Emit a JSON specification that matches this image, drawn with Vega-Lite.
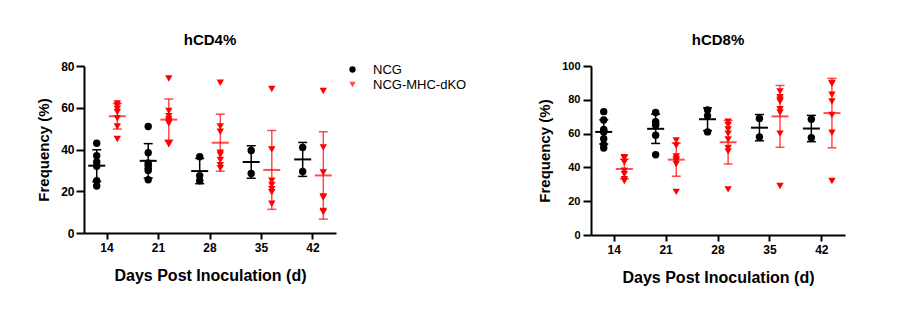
{
  "$schema": "https://vega.github.io/schema/vega-lite/v6.json",
  "padding": {"left": 36, "top": 33, "right": 5, "bottom": 5},
  "background": "white",
  "data": {"values": [
    {"panel":"CD4","day":14,"group":"NCG","value":43},{"panel":"CD4","day":14,"group":"NCG","value":37},{"panel":"CD4","day":14,"group":"NCG","value":34},{"panel":"CD4","day":14,"group":"NCG","value":32},{"panel":"CD4","day":14,"group":"NCG","value":25},{"panel":"CD4","day":14,"group":"NCG","value":22.5},
    {"panel":"CD4","day":14,"group":"NCG-MHC-dKO","value":62},{"panel":"CD4","day":14,"group":"NCG-MHC-dKO","value":61},{"panel":"CD4","day":14,"group":"NCG-MHC-dKO","value":59.5},{"panel":"CD4","day":14,"group":"NCG-MHC-dKO","value":58},{"panel":"CD4","day":14,"group":"NCG-MHC-dKO","value":55},{"panel":"CD4","day":14,"group":"NCG-MHC-dKO","value":51},{"panel":"CD4","day":14,"group":"NCG-MHC-dKO","value":45},
    {"panel":"CD4","day":21,"group":"NCG","value":51},{"panel":"CD4","day":21,"group":"NCG","value":38.5},{"panel":"CD4","day":21,"group":"NCG","value":33.5},{"panel":"CD4","day":21,"group":"NCG","value":32.5},{"panel":"CD4","day":21,"group":"NCG","value":31},{"panel":"CD4","day":21,"group":"NCG","value":30},{"panel":"CD4","day":21,"group":"NCG","value":25.5},
    {"panel":"CD4","day":21,"group":"NCG-MHC-dKO","value":74},{"panel":"CD4","day":21,"group":"NCG-MHC-dKO","value":58.5},{"panel":"CD4","day":21,"group":"NCG-MHC-dKO","value":56},{"panel":"CD4","day":21,"group":"NCG-MHC-dKO","value":54.5},{"panel":"CD4","day":21,"group":"NCG-MHC-dKO","value":53.5},{"panel":"CD4","day":21,"group":"NCG-MHC-dKO","value":52.5},{"panel":"CD4","day":21,"group":"NCG-MHC-dKO","value":43},{"panel":"CD4","day":21,"group":"NCG-MHC-dKO","value":42.5},
    {"panel":"CD4","day":28,"group":"NCG","value":36.5},{"panel":"CD4","day":28,"group":"NCG","value":27.5},{"panel":"CD4","day":28,"group":"NCG","value":25},
    {"panel":"CD4","day":28,"group":"NCG-MHC-dKO","value":72},{"panel":"CD4","day":28,"group":"NCG-MHC-dKO","value":51},{"panel":"CD4","day":28,"group":"NCG-MHC-dKO","value":48.5},{"panel":"CD4","day":28,"group":"NCG-MHC-dKO","value":38.5},{"panel":"CD4","day":28,"group":"NCG-MHC-dKO","value":37.5},{"panel":"CD4","day":28,"group":"NCG-MHC-dKO","value":35},{"panel":"CD4","day":28,"group":"NCG-MHC-dKO","value":32.5},{"panel":"CD4","day":28,"group":"NCG-MHC-dKO","value":31},
    {"panel":"CD4","day":35,"group":"NCG","value":39.5},{"panel":"CD4","day":35,"group":"NCG","value":28.5},
    {"panel":"CD4","day":35,"group":"NCG-MHC-dKO","value":69},{"panel":"CD4","day":35,"group":"NCG-MHC-dKO","value":40},{"panel":"CD4","day":35,"group":"NCG-MHC-dKO","value":25},{"panel":"CD4","day":35,"group":"NCG-MHC-dKO","value":23},{"panel":"CD4","day":35,"group":"NCG-MHC-dKO","value":21},{"panel":"CD4","day":35,"group":"NCG-MHC-dKO","value":19.5},{"panel":"CD4","day":35,"group":"NCG-MHC-dKO","value":14},
    {"panel":"CD4","day":42,"group":"NCG","value":41},{"panel":"CD4","day":42,"group":"NCG","value":29.5},
    {"panel":"CD4","day":42,"group":"NCG-MHC-dKO","value":68},{"panel":"CD4","day":42,"group":"NCG-MHC-dKO","value":41},{"panel":"CD4","day":42,"group":"NCG-MHC-dKO","value":29},{"panel":"CD4","day":42,"group":"NCG-MHC-dKO","value":17.5},{"panel":"CD4","day":42,"group":"NCG-MHC-dKO","value":17},{"panel":"CD4","day":42,"group":"NCG-MHC-dKO","value":10.5},{"panel":"CD4","day":42,"group":"NCG-MHC-dKO","value":10},
    {"panel":"CD8","day":14,"group":"NCG","value":73},{"panel":"CD8","day":14,"group":"NCG","value":68},{"panel":"CD8","day":14,"group":"NCG","value":62.5},{"panel":"CD8","day":14,"group":"NCG","value":61.5},{"panel":"CD8","day":14,"group":"NCG","value":61},{"panel":"CD8","day":14,"group":"NCG","value":57},{"panel":"CD8","day":14,"group":"NCG","value":53.5},{"panel":"CD8","day":14,"group":"NCG","value":51.5},
    {"panel":"CD8","day":14,"group":"NCG-MHC-dKO","value":46},{"panel":"CD8","day":14,"group":"NCG-MHC-dKO","value":45.5},{"panel":"CD8","day":14,"group":"NCG-MHC-dKO","value":43},{"panel":"CD8","day":14,"group":"NCG-MHC-dKO","value":38},{"panel":"CD8","day":14,"group":"NCG-MHC-dKO","value":36},{"panel":"CD8","day":14,"group":"NCG-MHC-dKO","value":33},{"panel":"CD8","day":14,"group":"NCG-MHC-dKO","value":32},
    {"panel":"CD8","day":21,"group":"NCG","value":72.5},{"panel":"CD8","day":21,"group":"NCG","value":67},{"panel":"CD8","day":21,"group":"NCG","value":66},{"panel":"CD8","day":21,"group":"NCG","value":65},{"panel":"CD8","day":21,"group":"NCG","value":59},{"panel":"CD8","day":21,"group":"NCG","value":47.5},
    {"panel":"CD8","day":21,"group":"NCG-MHC-dKO","value":56},{"panel":"CD8","day":21,"group":"NCG-MHC-dKO","value":53},{"panel":"CD8","day":21,"group":"NCG-MHC-dKO","value":46.5},{"panel":"CD8","day":21,"group":"NCG-MHC-dKO","value":45},{"panel":"CD8","day":21,"group":"NCG-MHC-dKO","value":44},{"panel":"CD8","day":21,"group":"NCG-MHC-dKO","value":42},{"panel":"CD8","day":21,"group":"NCG-MHC-dKO","value":25.5},
    {"panel":"CD8","day":28,"group":"NCG","value":74},{"panel":"CD8","day":28,"group":"NCG","value":70.5},{"panel":"CD8","day":28,"group":"NCG","value":61},
    {"panel":"CD8","day":28,"group":"NCG-MHC-dKO","value":67},{"panel":"CD8","day":28,"group":"NCG-MHC-dKO","value":65},{"panel":"CD8","day":28,"group":"NCG-MHC-dKO","value":62.5},{"panel":"CD8","day":28,"group":"NCG-MHC-dKO","value":60},{"panel":"CD8","day":28,"group":"NCG-MHC-dKO","value":56.5},{"panel":"CD8","day":28,"group":"NCG-MHC-dKO","value":51.5},{"panel":"CD8","day":28,"group":"NCG-MHC-dKO","value":49.5},{"panel":"CD8","day":28,"group":"NCG-MHC-dKO","value":27},
    {"panel":"CD8","day":35,"group":"NCG","value":69},{"panel":"CD8","day":35,"group":"NCG","value":58},
    {"panel":"CD8","day":35,"group":"NCG-MHC-dKO","value":85},{"panel":"CD8","day":35,"group":"NCG-MHC-dKO","value":81.5},{"panel":"CD8","day":35,"group":"NCG-MHC-dKO","value":80},{"panel":"CD8","day":35,"group":"NCG-MHC-dKO","value":79},{"panel":"CD8","day":35,"group":"NCG-MHC-dKO","value":74.5},{"panel":"CD8","day":35,"group":"NCG-MHC-dKO","value":72.5},{"panel":"CD8","day":35,"group":"NCG-MHC-dKO","value":60},{"panel":"CD8","day":35,"group":"NCG-MHC-dKO","value":29},
    {"panel":"CD8","day":42,"group":"NCG","value":68.5},{"panel":"CD8","day":42,"group":"NCG","value":57.5},
    {"panel":"CD8","day":42,"group":"NCG-MHC-dKO","value":90},{"panel":"CD8","day":42,"group":"NCG-MHC-dKO","value":89.5},{"panel":"CD8","day":42,"group":"NCG-MHC-dKO","value":83},{"panel":"CD8","day":42,"group":"NCG-MHC-dKO","value":79},{"panel":"CD8","day":42,"group":"NCG-MHC-dKO","value":71},{"panel":"CD8","day":42,"group":"NCG-MHC-dKO","value":60.5},{"panel":"CD8","day":42,"group":"NCG-MHC-dKO","value":32}
  ]},
  "config": {
    "font": "Liberation Sans",
    "view": {"stroke": null},
    "axis": {"grid": false, "domainColor": "black", "domainWidth": 2, "tickColor": "black", "tickWidth": 2, "labelColor": "black", "labelFont": "Liberation Sans", "labelFontWeight": "bold", "titleColor": "black", "titleFont": "Liberation Sans", "titleFontWeight": "bold", "labelOverlap": false},
    "axisX": {"tickSize": 6, "labelFontSize": 12, "labelPadding": 3, "labelAngle": 0, "titleFontSize": 16, "titlePadding": 14},
    "axisY": {"tickSize": 8, "labelPadding": 2, "titleFontSize": 15, "titlePadding": 9},
    "title": {"fontSize": 15, "fontWeight": "bold", "color": "black", "font": "Liberation Sans", "offset": 12},
    "legend": {"labelFont": "Liberation Sans", "labelFontSize": 13, "labelColor": "black", "symbolSize": 40, "labelOffset": 14, "rowPadding": 1, "symbolStrokeWidth": 0}
  },
  "spacing": 70,
  "resolve": {"scale": {"color": "independent", "shape": "independent", "opacity": "independent"}, "legend": {"color": "independent", "shape": "independent"}},
  "hconcat": [
    {
      "width": 252, "height": 167,
      "title": "hCD4%",
      "transform": [{"filter": "datum.panel === 'CD4'"}],
      "encoding": {
        "x": {"field": "day", "type": "ordinal", "scale": {"paddingInner": 0.2, "paddingOuter": 0.047}, "axis": {"title": "Days Post Inoculation (d)"}},
        "xOffset": {"field": "group", "type": "nominal", "scale": {"domain": ["NCG", "NCG-MHC-dKO"]}}
      },
      "layer": [
        {
          "mark": {"type": "point", "filled": true, "opacity": 1, "size": 55},
          "encoding": {
            "y": {"field": "value", "type": "quantitative", "scale": {"domain": [0, 80], "nice": false}, "axis": {"title": "Frequency (%)", "values": [0, 20, 40, 60, 80], "labelFontSize": 12}},
            "color": {"field": "group", "type": "nominal", "scale": {"domain": ["NCG", "NCG-MHC-dKO"], "range": ["#000000", "#ff0000"]}, "legend": {"title": null, "orient": "none", "legendX": 262, "legendY": -3}},
            "shape": {"field": "group", "type": "nominal", "scale": {"domain": ["NCG", "NCG-MHC-dKO"], "range": ["circle", "triangle-down"]}, "legend": {"title": null, "orient": "none", "legendX": 262, "legendY": -3}}
          }
        },
        {
          "transform": [
            {"aggregate": [{"op": "mean", "field": "value", "as": "mean"}, {"op": "stdev", "field": "value", "as": "sd"}], "groupby": ["day", "group"]},
            {"calculate": "datum.mean - datum.sd", "as": "lo"},
            {"calculate": "datum.mean + datum.sd", "as": "hi"}
          ],
          "encoding": {
            "color": {"field": "group", "type": "nominal", "scale": {"domain": ["NCG", "NCG-MHC-dKO"], "range": ["#000000", "#ff0000"]}, "legend": null},
            "opacity": {"field": "group", "type": "nominal", "scale": {"domain": ["NCG", "NCG-MHC-dKO"], "range": [1, 0.7]}, "legend": null}
          },
          "layer": [
            {"mark": {"type": "rule", "strokeWidth": 1.5}, "encoding": {"y": {"field": "lo", "type": "quantitative", "scale": {"domain": [0, 80], "nice": false}, "axis": {"title": "Frequency (%)", "values": [0, 20, 40, 60, 80], "labelFontSize": 12}}, "y2": {"field": "hi"}}},
            {"mark": {"type": "tick", "size": 9, "thickness": 1.5}, "encoding": {"y": {"field": "lo", "type": "quantitative", "scale": {"domain": [0, 80], "nice": false}, "axis": {"title": "Frequency (%)", "values": [0, 20, 40, 60, 80], "labelFontSize": 12}}}},
            {"mark": {"type": "tick", "size": 9, "thickness": 1.5}, "encoding": {"y": {"field": "hi", "type": "quantitative", "scale": {"domain": [0, 80], "nice": false}, "axis": {"title": "Frequency (%)", "values": [0, 20, 40, 60, 80], "labelFontSize": 12}}}},
            {"mark": {"type": "tick", "size": 17, "thickness": 2}, "encoding": {"y": {"field": "mean", "type": "quantitative", "scale": {"domain": [0, 80], "nice": false}, "axis": {"title": "Frequency (%)", "values": [0, 20, 40, 60, 80], "labelFontSize": 12}}}}
          ]
        }
      ]
    },
    {
      "width": 254, "height": 169,
      "title": "hCD8%",
      "transform": [{"filter": "datum.panel === 'CD8'"}],
      "encoding": {
        "x": {"field": "day", "type": "ordinal", "scale": {"paddingInner": 0.2, "paddingOuter": 0.047}, "axis": {"title": "Days Post Inoculation (d)"}},
        "xOffset": {"field": "group", "type": "nominal", "scale": {"domain": ["NCG", "NCG-MHC-dKO"]}}
      },
      "layer": [
        {
          "mark": {"type": "point", "filled": true, "opacity": 1, "size": 55},
          "encoding": {
            "y": {"field": "value", "type": "quantitative", "scale": {"domain": [0, 100], "nice": false}, "axis": {"title": "Frequency (%)", "values": [0, 20, 40, 60, 80, 100], "labelFontSize": 11, "labelPadding": 3}},
            "color": {"field": "group", "type": "nominal", "scale": {"domain": ["NCG", "NCG-MHC-dKO"], "range": ["#000000", "#ff0000"]}, "legend": null},
            "shape": {"field": "group", "type": "nominal", "scale": {"domain": ["NCG", "NCG-MHC-dKO"], "range": ["circle", "triangle-down"]}, "legend": null}
          }
        },
        {
          "transform": [
            {"aggregate": [{"op": "mean", "field": "value", "as": "mean"}, {"op": "stdev", "field": "value", "as": "sd"}], "groupby": ["day", "group"]},
            {"calculate": "datum.mean - datum.sd", "as": "lo"},
            {"calculate": "datum.mean + datum.sd", "as": "hi"}
          ],
          "encoding": {
            "color": {"field": "group", "type": "nominal", "scale": {"domain": ["NCG", "NCG-MHC-dKO"], "range": ["#000000", "#ff0000"]}, "legend": null},
            "opacity": {"field": "group", "type": "nominal", "scale": {"domain": ["NCG", "NCG-MHC-dKO"], "range": [1, 0.7]}, "legend": null}
          },
          "layer": [
            {"mark": {"type": "rule", "strokeWidth": 1.5}, "encoding": {"y": {"field": "lo", "type": "quantitative", "scale": {"domain": [0, 100], "nice": false}, "axis": {"title": "Frequency (%)", "values": [0, 20, 40, 60, 80, 100], "labelFontSize": 11, "labelPadding": 3}}, "y2": {"field": "hi"}}},
            {"mark": {"type": "tick", "size": 9, "thickness": 1.5}, "encoding": {"y": {"field": "lo", "type": "quantitative", "scale": {"domain": [0, 100], "nice": false}, "axis": {"title": "Frequency (%)", "values": [0, 20, 40, 60, 80, 100], "labelFontSize": 11, "labelPadding": 3}}}},
            {"mark": {"type": "tick", "size": 9, "thickness": 1.5}, "encoding": {"y": {"field": "hi", "type": "quantitative", "scale": {"domain": [0, 100], "nice": false}, "axis": {"title": "Frequency (%)", "values": [0, 20, 40, 60, 80, 100], "labelFontSize": 11, "labelPadding": 3}}}},
            {"mark": {"type": "tick", "size": 17, "thickness": 2}, "encoding": {"y": {"field": "mean", "type": "quantitative", "scale": {"domain": [0, 100], "nice": false}, "axis": {"title": "Frequency (%)", "values": [0, 20, 40, 60, 80, 100], "labelFontSize": 11, "labelPadding": 3}}}}
          ]
        }
      ]
    }
  ]
}
